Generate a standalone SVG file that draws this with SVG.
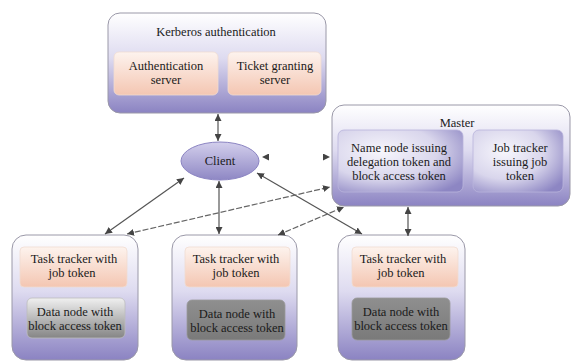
<svg xmlns="http://www.w3.org/2000/svg" width="574" height="362" viewBox="0 0 574 362">
<defs>
<linearGradient id="gBox" x1="0" y1="0" x2="0" y2="1">
<stop offset="0" stop-color="#ffffff"/>
<stop offset="0.45" stop-color="#dedbf0"/>
<stop offset="1" stop-color="#8b83c2"/>
</linearGradient>
<linearGradient id="gPeach" x1="0" y1="0" x2="0" y2="1">
<stop offset="0" stop-color="#fdf3ee"/>
<stop offset="1" stop-color="#f4c6b2"/>
</linearGradient>
<linearGradient id="gGrayL" x1="0" y1="0" x2="0" y2="1">
<stop offset="0" stop-color="#f0f0f0"/>
<stop offset="1" stop-color="#858585"/>
</linearGradient>
<linearGradient id="gGrayD" x1="0" y1="0" x2="0" y2="1">
<stop offset="0" stop-color="#8f8f8f"/>
<stop offset="1" stop-color="#7a7a7a"/>
</linearGradient>
<radialGradient id="gLav" cx="0.35" cy="0.35" r="0.8">
<stop offset="0" stop-color="#f7f6fc"/>
<stop offset="0.55" stop-color="#d9d6ec"/>
<stop offset="1" stop-color="#8d86c3"/>
</radialGradient>
<linearGradient id="gClient" x1="0" y1="0" x2="0" y2="1">
<stop offset="0" stop-color="#d3cfec"/>
<stop offset="1" stop-color="#8e87c4"/>
</linearGradient>
<marker id="ah" viewBox="0 0 10 10" refX="10" refY="5" markerWidth="7" markerHeight="7" markerUnits="userSpaceOnUse" orient="auto-start-reverse">
<path d="M0,0 L10,5 L0,10 z" fill="#444"/>
</marker>
</defs>
<style>
.box{fill:url(#gBox);stroke:#9a98a8;stroke-width:1}
.peach{fill:url(#gPeach);stroke:#f0dcd2;stroke-width:0.8}
.lav{fill:url(#gLav);stroke:#b9b4dc;stroke-width:0.8}
.grayL{fill:url(#gGrayL);stroke:#bdbdbd;stroke-width:0.8}
.grayD{fill:url(#gGrayD);stroke:#9a9a9a;stroke-width:0.8}
text{font-family:'Liberation Serif','DejaVu Serif',serif;font-size:12.5px;fill:#1a1a1a;text-anchor:middle}
.c{fill:none;stroke:#555;stroke-width:1.2;marker-start:url(#ah);marker-end:url(#ah)}
.d{fill:none;stroke:#666;stroke-width:1.2;stroke-dasharray:6 2;marker-start:url(#ah);marker-end:url(#ah)}
</style>

<g id="kerberos">
<rect class="box" x="108" y="13" width="218" height="100" rx="12"/>
<text x="216" y="36">Kerberos authentication</text>
<rect class="peach" x="114" y="52" width="104" height="43" rx="5"/>
<text x="166" y="70">Authentication</text>
<text x="166" y="84">server</text>
<rect class="peach" x="228" y="52" width="93" height="43" rx="5"/>
<text x="275" y="70">Ticket granting</text>
<text x="275" y="84">server</text>
</g>

<g id="client">
<ellipse cx="220" cy="161" rx="39" ry="19" fill="url(#gClient)" stroke="#8b84c2" stroke-width="1"/>
<text x="220" y="165">Client</text>
</g>

<g id="master">
<rect class="box" x="332" y="105" width="238" height="101" rx="12"/>
<text x="457" y="127">Master</text>
<rect class="lav" x="338" y="130" width="125" height="62" rx="6"/>
<text x="399" y="152">Name node issuing</text>
<text x="399" y="166">delegation token and</text>
<text x="399" y="180">block access token</text>
<rect class="lav" x="473" y="130" width="90" height="62" rx="6"/>
<text x="520" y="152">Job tracker</text>
<text x="520" y="166">issuing job</text>
<text x="520" y="180">token</text>
</g>

<g id="worker1">
<rect class="box" x="12" y="235" width="126" height="125" rx="14"/>
<rect class="peach" x="20" y="247" width="107" height="40" rx="4"/>
<text x="74" y="263">Task tracker with</text>
<text x="72" y="277">job token</text>
<rect class="grayL" x="27" y="298" width="98" height="40" rx="5"/>
<text x="75" y="316">Data node with</text>
<text x="75" y="330">block access token</text>
</g>

<g id="worker2">
<rect class="box" x="172" y="235" width="125" height="125" rx="14"/>
<rect class="peach" x="185" y="247" width="105" height="40" rx="4"/>
<text x="236" y="263">Task tracker with</text>
<text x="236" y="277">job token</text>
<rect class="grayD" x="187" y="300" width="98" height="40" rx="5"/>
<text x="237" y="318">Data node with</text>
<text x="237" y="332">block access token</text>
</g>

<g id="worker3">
<rect class="box" x="338" y="235" width="127" height="125" rx="14"/>
<rect class="peach" x="352" y="247" width="106" height="40" rx="4"/>
<text x="403" y="263">Task tracker with</text>
<text x="401" y="277">job token</text>
<rect class="grayD" x="352" y="298" width="98" height="42" rx="5"/>
<text x="401" y="316">Data node with</text>
<text x="401" y="330">block access token</text>
</g>

<g id="connectors">
<line class="c" x1="218" y1="114" x2="218" y2="141"/>
<line class="c" x1="184" y1="178" x2="105" y2="234"/>
<line class="c" x1="219" y1="181" x2="219" y2="234"/>
<line class="c" x1="257" y1="173" x2="362" y2="234"/>
<line x1="262" y1="157" x2="330" y2="157" stroke="#000" stroke-opacity="0" stroke-width="1" marker-start="url(#ah)" marker-end="url(#ah)"/>
<line class="d" x1="127" y1="234" x2="330" y2="187"/>
<line class="d" x1="278" y1="235" x2="344" y2="207"/>
<line class="c" x1="408" y1="207" x2="408" y2="236"/>
</g>
</svg>
